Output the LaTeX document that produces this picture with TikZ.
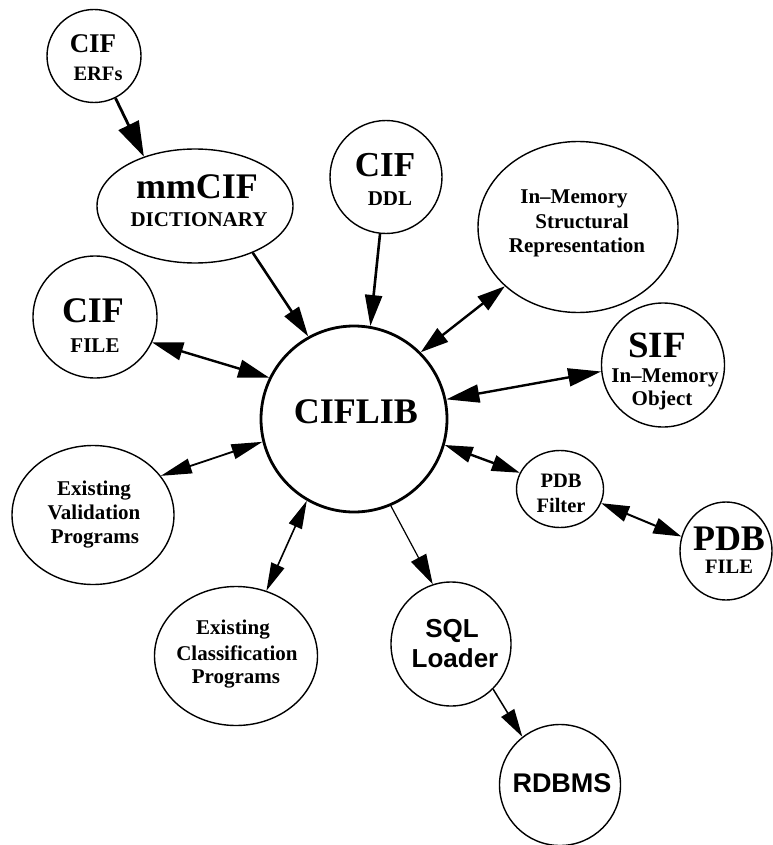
\documentclass[tikz,border=0pt]{standalone}
\usepackage{fontspec}
\setmainfont{Liberation Serif}
\newfontfamily\hvfont{Liberation Sans}
\usetikzlibrary{shapes.geometric,arrows.meta}
\tikzset{
  blob/.style={draw, ellipse, line width=1.4pt, inner sep=0pt},
  txt/.style={anchor=base, inner sep=0pt, font=\bfseries},
  sz/.style={font=\bfseries\fontsize{#1}{#1}\selectfont},
  hz/.style={font=\hvfont\bfseries\fontsize{#1}{#1}\selectfont},
  ah/.style 2 args={-{Triangle[length=#1pt,width=#2pt]}},
  bh/.style 2 args={{Triangle[length=#1pt,width=#2pt]}-{Triangle[length=#1pt,width=#2pt]}},
}
\begin{document}
\begin{tikzpicture}[x=1pt,y=-1pt]
\useasboundingbox (0,0) rectangle (772,845);
% shapes
\node[blob, minimum width=94, minimum height=93] (erfs) at (94,56) {};
\node[blob, minimum width=196, minimum height=114] (mm) at (195,206) {};
\node[blob, minimum width=112, minimum height=113] (ddl) at (386,177) {};
\node[blob, minimum width=200, minimum height=171] (inmem) at (578,227) {};
\node[blob, minimum width=123, minimum height=124] (sif) at (663,365) {};
\node[blob, minimum width=124, minimum height=122] (ciffile) at (95,317) {};
\node[blob, line width=2.8pt, minimum width=186, minimum height=186] (ciflib) at (354,419) {};
\node[blob, minimum width=162, minimum height=139] (valid) at (93,515) {};
\node[blob, minimum width=163, minimum height=139] (classif) at (236,656) {};
\node[blob, minimum width=87, minimum height=77] (filter) at (560,489) {};
\node[blob, minimum width=92, minimum height=98] (pdb) at (726,551) {};
\node[blob, minimum width=120, minimum height=124] (sql) at (451,644) {};
\node[blob, minimum width=121, minimum height=121] (rdbms) at (560,785) {};
% texts
\node[txt, sz=27] (erfsA) at (93,53) {CIF};
\node[txt, sz=20.5] (erfsB) at (98,81) {ERFs};
\node[txt, sz=36] (mmA) at (197,198) {mmCIF};
\node[txt, sz=21] (mmB) at (199,226) {DICTIONARY};
\node[txt, sz=35] (ddlA) at (385,177) {CIF};
\node[txt, sz=21] (ddlB) at (390,205) {DDL};
\node[txt, sz=21] (inmemA) at (574,204) {In--Memory};
\node[txt, sz=21] (inmemB) at (582,228) {Structural};
\node[txt, sz=21] (inmemC) at (577,252) {Representation};
\node[txt, sz=37] (sifA) at (657,357) {SIF};
\node[txt, sz=21] (sifB) at (665,382) {In--Memory};
\node[txt, sz=21] (sifC) at (662,405) {Object};
\node[txt, sz=36] (cfA) at (93,322) {CIF};
\node[txt, sz=21] (cfB) at (95,352) {FILE};
\node[txt, sz=36] (libA) at (356,423) {CIFLIB};
\node[txt, sz=21] (vA) at (94,495) {Existing};
\node[txt, sz=21] (vB) at (94,519) {Validation};
\node[txt, sz=21] (vC) at (95,543) {Programs};
\node[txt, sz=21] (cA) at (233,634) {Existing};
\node[txt, sz=21] (cB) at (237,660) {Classification};
\node[txt, sz=21] (cC) at (236,683) {Programs};
\node[txt, sz=20.5] (fA) at (561,487) {PDB};
\node[txt, sz=20.5] (fB) at (561,512) {Filter};
\node[txt, sz=36] (pA) at (729,550) {PDB};
\node[txt, sz=20.5] (pB) at (729,573) {FILE};
\node[txt, hz=26] (sA) at (452,637) {SQL};
\node[txt, hz=26] (sB) at (455,667) {Loader};
\node[txt, hz=27] (rA) at (562,792) {RDBMS};
% connectors
\draw[line width=2.8pt, ah={35}{22}] (erfs.-63) -- (mm.136);
\draw[line width=2.6pt, ah={30}{17}] (mm.-39) -- (ciflib.119.5);
\draw[line width=2.6pt, ah={31}{17}] (ddl.-96) -- (ciflib.80.7);
\draw[line width=2.4pt, bh={28}{17}] (ciflib.45.8) -- (inmem.219.6);
\draw[line width=2.4pt, bh={31}{18}] (ciffile.-24.5) -- (ciflib.154.5);
\draw[line width=2.4pt, bh={33}{18}] (ciflib.12) -- (sif.186);
\draw[line width=1.8pt, bh={31}{15}] (valid.30) -- (ciflib.194);
\draw[line width=1.6pt, bh={28}{14}] (classif.65.6) -- (ciflib.-120.5);
\draw[line width=1.2pt, ah={30}{17}] (ciflib.-67) -- (sql.107);
\draw[line width=2.4pt, bh={28}{16}] (ciflib.-16.8) -- (filter.158.5);
\draw[line width=2pt, bh={28}{16}] (filter.-19) -- (pdb.162);
\draw[line width=1.5pt, ah={28}{15}] (sql.-47.6) -- (rdbms.128.7);
\end{tikzpicture}
\end{document}
